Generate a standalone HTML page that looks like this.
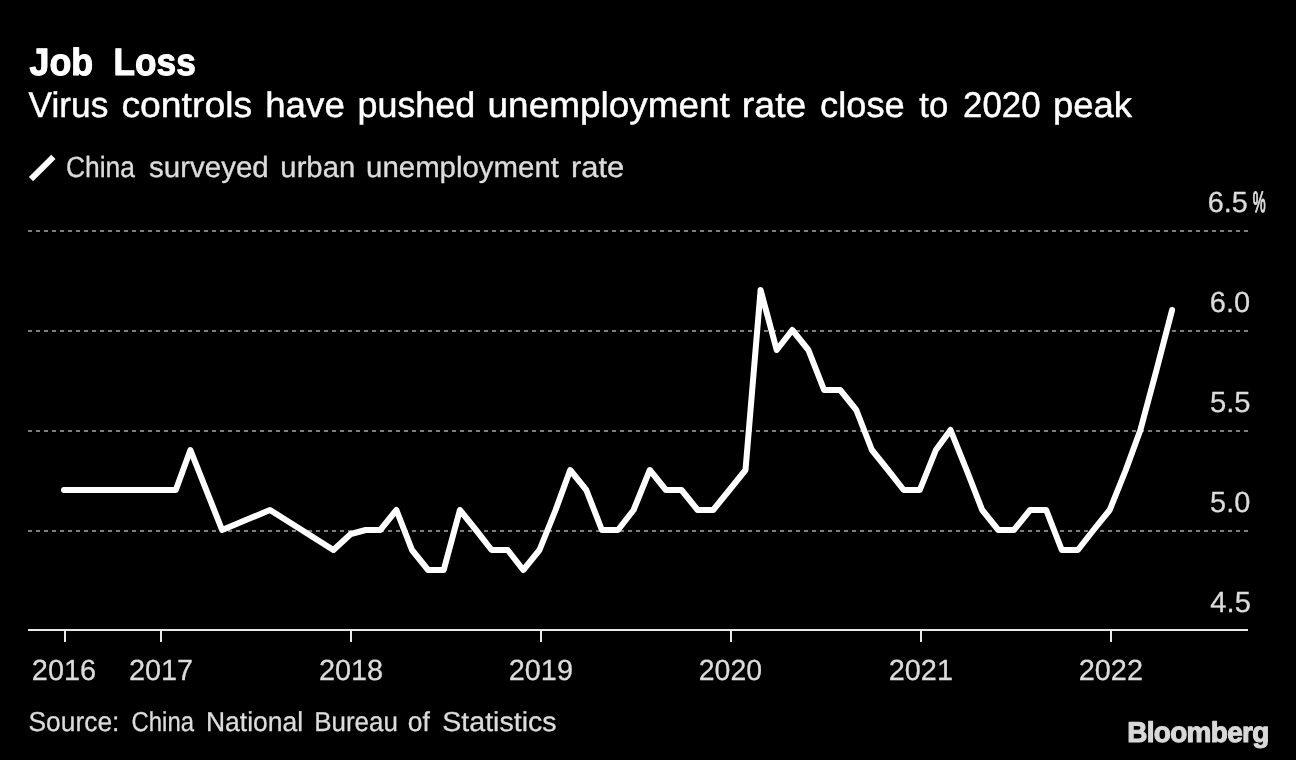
<!DOCTYPE html>
<html><head><meta charset="utf-8"><title>Job Loss</title>
<style>
html,body{margin:0;padding:0;background:#000;}
body{width:1296px;height:760px;overflow:hidden;font-family:"Liberation Sans",sans-serif;}
svg{display:block;font-family:"Liberation Sans",sans-serif;will-change:transform;transform:translateZ(0);}
text{text-rendering:geometricPrecision;}
</style></head><body>
<svg width="1296" height="760" viewBox="0 0 1296 760">
<rect width="1296" height="760" fill="#000"/>
<g stroke="#7d7d7d" stroke-width="2" stroke-dasharray="4 4" fill="none" shape-rendering="crispEdges"><line x1="28" x2="1248" y1="231" y2="231"/><line x1="28" x2="1248" y1="331" y2="331"/><line x1="28" x2="1248" y1="431" y2="431"/><line x1="28" x2="1248" y1="531" y2="531"/></g>
<g stroke="#e8e8e8" stroke-width="2" fill="none" shape-rendering="crispEdges"><line x1="28" x2="1248" y1="630" y2="630"/><line x1="65" x2="65" y1="630" y2="642"/><line x1="161" x2="161" y1="630" y2="642"/><line x1="351" x2="351" y1="630" y2="642"/><line x1="541" x2="541" y1="630" y2="642"/><line x1="731" x2="731" y1="630" y2="642"/><line x1="921" x2="921" y1="630" y2="642"/><line x1="1111" x2="1111" y1="630" y2="642"/></g>
<path d="M64.0,490.0 L175.8,490.0 L190.4,450.0 L222.1,530.0 L270.0,510.0 L333.4,550.0 L350.8,534.0 L365.7,530.0 L380.3,530.0 L396.4,510.0 L412.0,550.0 L428.1,570.0 L443.7,570.0 L459.9,510.0 L476.0,530.0 L491.6,550.0 L507.7,550.0 L523.3,570.0 L539.5,550.0 L555.6,510.0 L570.2,470.0 L586.3,490.0 L601.9,530.0 L618.0,530.0 L633.6,510.0 L649.8,470.0 L665.9,490.0 L681.5,490.0 L697.6,510.0 L713.2,510.0 L729.4,490.0 L745.5,470.0 L760.6,290.0 L776.7,350.0 L792.3,330.0 L808.4,350.0 L824.1,390.0 L840.2,390.0 L856.3,410.0 L871.9,450.0 L888.0,470.0 L903.7,490.0 L919.8,490.0 L935.9,450.0 L950.5,430.0 L966.6,470.0 L982.2,510.0 L998.3,530.0 L1013.9,530.0 L1030.1,510.0 L1046.2,510.0 L1061.8,550.0 L1077.9,550.0 L1093.5,530.0 L1109.7,510.0 L1125.8,470.0 L1140.4,430.0 L1156.5,370.0 L1172.1,310.0" fill="none" stroke="#fff" stroke-width="6" stroke-linejoin="round" stroke-linecap="round"/>
<line x1="31" y1="179.2" x2="53.4" y2="156.8" stroke="#fff" stroke-width="6"/>
<g>
<text transform="translate(29.50,75.00) scale(0.9413,1)" font-size="38" font-weight="bold" fill="#ffffff" stroke="#ffffff" stroke-width="1.1" stroke-linejoin="round" vector-effect="non-scaling-stroke">Job</text>
<text transform="translate(113.60,75.00) scale(0.9257,1)" font-size="38" font-weight="bold" fill="#ffffff" stroke="#ffffff" stroke-width="1.1" stroke-linejoin="round" vector-effect="non-scaling-stroke">Loss</text>
<text transform="translate(28.62,117.00) scale(0.9879,1)" font-size="35.7" font-weight="normal" fill="#ffffff" stroke="#ffffff" stroke-width="0.45" stroke-linejoin="round" vector-effect="non-scaling-stroke">Virus</text>
<text transform="translate(121.38,117.00) scale(1.0466,1)" font-size="35.7" font-weight="normal" fill="#ffffff" stroke="#ffffff" stroke-width="0.45" stroke-linejoin="round" vector-effect="non-scaling-stroke">controls</text>
<text transform="translate(265.17,117.00) scale(1.0297,1)" font-size="35.7" font-weight="normal" fill="#ffffff" stroke="#ffffff" stroke-width="0.45" stroke-linejoin="round" vector-effect="non-scaling-stroke">have</text>
<text transform="translate(357.51,117.00) scale(1.0054,1)" font-size="35.7" font-weight="normal" fill="#ffffff" stroke="#ffffff" stroke-width="0.45" stroke-linejoin="round" vector-effect="non-scaling-stroke">pushed</text>
<text transform="translate(487.56,117.00) scale(1.0348,1)" font-size="35.7" font-weight="normal" fill="#ffffff" stroke="#ffffff" stroke-width="0.45" stroke-linejoin="round" vector-effect="non-scaling-stroke">unemployment</text>
<text transform="translate(741.83,117.00) scale(1.0495,1)" font-size="35.7" font-weight="normal" fill="#ffffff" stroke="#ffffff" stroke-width="0.45" stroke-linejoin="round" vector-effect="non-scaling-stroke">rate</text>
<text transform="translate(820.11,117.00) scale(1.0146,1)" font-size="35.7" font-weight="normal" fill="#ffffff" stroke="#ffffff" stroke-width="0.45" stroke-linejoin="round" vector-effect="non-scaling-stroke">close</text>
<text transform="translate(919.23,117.00) scale(0.9735,1)" font-size="35.7" font-weight="normal" fill="#ffffff" stroke="#ffffff" stroke-width="0.45" stroke-linejoin="round" vector-effect="non-scaling-stroke">to</text>
<text transform="translate(963.05,117.00) scale(0.9769,1)" font-size="35.7" font-weight="normal" fill="#ffffff" stroke="#ffffff" stroke-width="0.45" stroke-linejoin="round" vector-effect="non-scaling-stroke">2020</text>
<text transform="translate(1052.88,117.00) scale(1.0226,1)" font-size="35.7" font-weight="normal" fill="#ffffff" stroke="#ffffff" stroke-width="0.45" stroke-linejoin="round" vector-effect="non-scaling-stroke">peak</text>
<text transform="translate(66.07,177.00) scale(0.9030,1)" font-size="29.2" font-weight="normal" fill="#dcdcdc" stroke="#dcdcdc" stroke-width="0.35" stroke-linejoin="round" vector-effect="non-scaling-stroke">China</text>
<text transform="translate(149.08,177.00) scale(1.0107,1)" font-size="29.2" font-weight="normal" fill="#dcdcdc" stroke="#dcdcdc" stroke-width="0.35" stroke-linejoin="round" vector-effect="non-scaling-stroke">surveyed</text>
<text transform="translate(280.37,177.00) scale(1.0018,1)" font-size="29.2" font-weight="normal" fill="#dcdcdc" stroke="#dcdcdc" stroke-width="0.35" stroke-linejoin="round" vector-effect="non-scaling-stroke">urban</text>
<text transform="translate(366.07,177.00) scale(1.0074,1)" font-size="29.2" font-weight="normal" fill="#dcdcdc" stroke="#dcdcdc" stroke-width="0.35" stroke-linejoin="round" vector-effect="non-scaling-stroke">unemployment</text>
<text transform="translate(571.01,177.00) scale(1.0601,1)" font-size="29.2" font-weight="normal" fill="#dcdcdc" stroke="#dcdcdc" stroke-width="0.35" stroke-linejoin="round" vector-effect="non-scaling-stroke">rate</text>
<text transform="translate(28.49,731.00) scale(0.9631,1)" font-size="27.4" font-weight="normal" fill="#dcdcdc" stroke="#dcdcdc" stroke-width="0.3" stroke-linejoin="round" vector-effect="non-scaling-stroke">Source:</text>
<text transform="translate(131.58,731.00) scale(0.8720,1)" font-size="27.4" font-weight="normal" fill="#dcdcdc" stroke="#dcdcdc" stroke-width="0.3" stroke-linejoin="round" vector-effect="non-scaling-stroke">China</text>
<text transform="translate(205.92,731.00) scale(0.9671,1)" font-size="27.4" font-weight="normal" fill="#dcdcdc" stroke="#dcdcdc" stroke-width="0.3" stroke-linejoin="round" vector-effect="non-scaling-stroke">National</text>
<text transform="translate(314.26,731.00) scale(0.9460,1)" font-size="27.4" font-weight="normal" fill="#dcdcdc" stroke="#dcdcdc" stroke-width="0.3" stroke-linejoin="round" vector-effect="non-scaling-stroke">Bureau</text>
<text transform="translate(407.78,731.00) scale(0.9670,1)" font-size="27.4" font-weight="normal" fill="#dcdcdc" stroke="#dcdcdc" stroke-width="0.3" stroke-linejoin="round" vector-effect="non-scaling-stroke">of</text>
<text transform="translate(442.31,731.00) scale(1.0427,1)" font-size="27.4" font-weight="normal" fill="#dcdcdc" stroke="#dcdcdc" stroke-width="0.3" stroke-linejoin="round" vector-effect="non-scaling-stroke">Statistics</text>
<text transform="translate(31.86,680.00) scale(0.9889,1)" font-size="29.2" font-weight="normal" fill="#dcdcdc" stroke="#dcdcdc" stroke-width="0.3" stroke-linejoin="round" vector-effect="non-scaling-stroke">2016</text>
<text transform="translate(128.96,680.00) scale(0.9889,1)" font-size="29.2" font-weight="normal" fill="#dcdcdc" stroke="#dcdcdc" stroke-width="0.3" stroke-linejoin="round" vector-effect="non-scaling-stroke">2017</text>
<text transform="translate(318.96,680.00) scale(0.9889,1)" font-size="29.2" font-weight="normal" fill="#dcdcdc" stroke="#dcdcdc" stroke-width="0.3" stroke-linejoin="round" vector-effect="non-scaling-stroke">2018</text>
<text transform="translate(508.76,680.00) scale(0.9889,1)" font-size="29.2" font-weight="normal" fill="#dcdcdc" stroke="#dcdcdc" stroke-width="0.3" stroke-linejoin="round" vector-effect="non-scaling-stroke">2019</text>
<text transform="translate(698.78,680.00) scale(0.9733,1)" font-size="29.2" font-weight="normal" fill="#dcdcdc" stroke="#dcdcdc" stroke-width="0.3" stroke-linejoin="round" vector-effect="non-scaling-stroke">2020</text>
<text transform="translate(888.76,680.00) scale(0.9889,1)" font-size="29.2" font-weight="normal" fill="#dcdcdc" stroke="#dcdcdc" stroke-width="0.3" stroke-linejoin="round" vector-effect="non-scaling-stroke">2021</text>
<text transform="translate(1078.76,680.00) scale(0.9889,1)" font-size="29.2" font-weight="normal" fill="#dcdcdc" stroke="#dcdcdc" stroke-width="0.3" stroke-linejoin="round" vector-effect="non-scaling-stroke">2022</text>
<text transform="translate(1207.76,212.30) scale(0.9859,1)" font-size="29.2" font-weight="normal" fill="#dcdcdc" stroke="#dcdcdc" stroke-width="0.3" stroke-linejoin="round" vector-effect="non-scaling-stroke">6.5</text>
<text transform="translate(1252.66,212.30) scale(0.4920,1)" font-size="29.5" font-weight="normal" fill="#dcdcdc" stroke="#dcdcdc" stroke-width="1.3" stroke-linejoin="round" vector-effect="non-scaling-stroke">%</text>
<text transform="translate(1209.76,312.10) scale(0.9939,1)" font-size="29.2" font-weight="normal" fill="#dcdcdc" stroke="#dcdcdc" stroke-width="0.3" stroke-linejoin="round" vector-effect="non-scaling-stroke">6.0</text>
<text transform="translate(1209.95,412.10) scale(1.0015,1)" font-size="29.2" font-weight="normal" fill="#dcdcdc" stroke="#dcdcdc" stroke-width="0.3" stroke-linejoin="round" vector-effect="non-scaling-stroke">5.5</text>
<text transform="translate(1210.06,512.10) scale(0.9913,1)" font-size="29.2" font-weight="normal" fill="#dcdcdc" stroke="#dcdcdc" stroke-width="0.3" stroke-linejoin="round" vector-effect="non-scaling-stroke">5.0</text>
<text transform="translate(1210.35,611.70) scale(0.9989,1)" font-size="29.2" font-weight="normal" fill="#dcdcdc" stroke="#dcdcdc" stroke-width="0.3" stroke-linejoin="round" vector-effect="non-scaling-stroke">4.5</text>
<text transform="translate(1127.27,742.00) scale(0.9773,1)" font-size="28.6" font-weight="bold" fill="#d9d9d9" stroke="#d9d9d9" stroke-width="1.1" stroke-linejoin="round" vector-effect="non-scaling-stroke" letter-spacing="-0.7">Bloomberg</text>
</g>
</svg>
</body></html>
